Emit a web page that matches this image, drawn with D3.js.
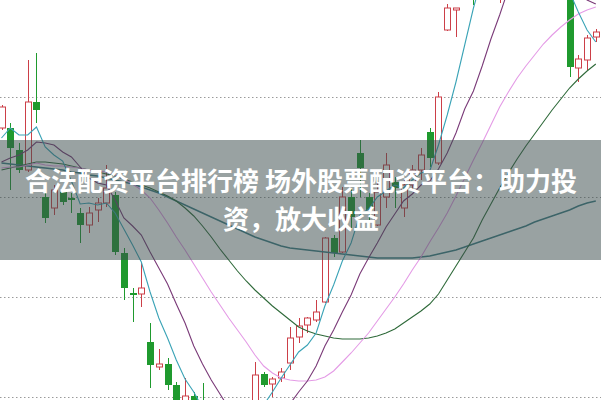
<!DOCTYPE html>
<html><head><meta charset="utf-8">
<script src="https://cdn.jsdelivr.net/npm/d3@7/dist/d3.min.js"></script>
<style>html,body{margin:0;padding:0;background:#fff;overflow:hidden}</style>
</head><body><svg id="c" width="601" height="400"></svg>
<script>
// ---- data (prices) ----
const opens=[36.9,36.9,34.7,32.7,39.5,30.0,28.9,30.5,29.9,28.4,27.2,28.7,29.4,30.2,24.4,20.4,20.3,15.5,13.0,13.3,11.2,8.5,10.1,9.4,6.7,4.9,5.9,4.2,5.5,8.7,12.3,11.3,11.9,13.4,16.0,17.2,17.7,19.5,25.9,24.5,30.0,34.4,30.0,27.2,30.0,31.5,28.9,31.2,32.7,36.5,33.4,46.7,48.7,50.5,55.0,51.5,56.0,52.0,57.0,60.0,61.0,59.0,56.5,53.0,51.5,50.5,42.9,43.7,46.0];
const highs=[39.2,37.4,35.4,43.7,44.4,31.4,31.2,30.9,30.4,28.9,29.0,29.9,33.2,30.5,24.9,20.9,23.4,17.4,14.8,13.9,11.5,11.9,10.5,11.4,8.2,7.2,6.9,6.7,8.7,13.5,12.5,12.0,12.9,17.0,17.9,18.0,19.7,26.0,26.2,31.0,30.9,35.7,30.4,31.7,34.4,32.0,31.7,33.2,34.9,36.9,40.5,49.3,48.9,55.0,56.0,57.0,59.5,58.0,61.0,62.5,62.0,59.5,57.0,53.5,52.5,51.0,44.2,46.2,46.8];
const lows=[36.7,30.7,32.4,32.5,37.4,27.4,28.2,29.2,28.4,25.4,26.4,27.5,29.0,24.2,19.7,17.5,19.0,10.9,12.7,10.7,8.2,7.9,7.2,6.2,4.7,4.2,3.5,3.7,5.0,8.2,11.0,10.0,11.5,12.7,15.4,16.4,17.5,19.4,24.0,24.4,26.7,30.0,27.7,27.1,28.9,28.9,28.0,30.7,31.7,33.0,33.2,46.6,46.0,50.2,49.2,51.0,55.0,49.4,56.0,59.0,58.0,55.0,52.0,50.3,49.8,42.0,41.5,42.7,45.5];
const closes=[39.0,34.9,32.7,39.5,38.7,27.9,30.7,29.5,29.7,27.2,28.4,29.4,30.9,24.5,20.9,20.2,20.9,13.2,13.3,11.2,8.7,10.1,7.7,6.7,5.2,6.2,4.2,5.7,7.7,12.2,11.2,11.8,12.5,15.9,17.1,17.9,18.5,25.9,24.4,30.0,28.0,32.9,28.7,30.5,33.2,30.9,31.2,32.7,34.2,33.9,40.0,48.9,48.9,54.0,51.0,56.0,58.0,57.0,60.0,61.0,59.0,56.0,53.0,51.0,50.0,43.0,43.8,45.9,46.5];

const ma5=[35.9,36.9,36.2,36.2,37.0,35.0,34.2,33.6,31.6,29.3,29.4,29.2,29.4,28.4,26.8,25.2,23.5,20.5,17.9,15.9,13.7,11.8,10.5,8.9,7.7,7.2,6.0,5.6,5.8,7.2,9.2,10.5,11.9,13.2,14.5,15.2,16.4,19.1,21.2,23.6,25.4,28.2,28.8,30.0,30.6,31.2,30.9,31.7,32.4,32.6,35.2,38.2,41.5,45.2,48.9,52.0,54.0,56.0,57.5,59.0,59.5,59.0,57.0,55.0,52.5,50.5,48.5,46.7,45.5];
const ma10=[33.5,33.9,34.2,34.7,35.5,35.4,35.2,34.5,34.0,33.0,31.9,31.4,31.2,29.7,27.9,27.1,26.2,24.5,22.9,21.3,19.3,17.4,15.1,13.3,11.7,10.3,8.9,8.0,7.4,7.4,7.7,7.9,8.3,9.3,10.5,11.6,13.1,15.1,16.7,18.5,20.2,22.3,23.9,25.4,27.0,28.3,29.6,30.3,31.2,31.6,32.8,34.4,36.4,38.8,40.6,43.1,45.8,48.2,50.8,53.0,55.0,56.0,56.0,55.0,53.5,51.8,50.6,49.7,49.3];
const ma20=[32.9,33.0,33.0,33.2,33.4,33.2,33.1,33.1,33.0,32.9,32.7,32.6,32.5,32.2,31.8,31.3,30.7,29.9,28.7,27.4,26.0,24.7,23.3,21.9,20.5,19.2,17.9,16.7,15.5,14.2,13.1,12.4,11.9,11.7,11.6,11.6,11.7,12.0,12.6,13.5,14.4,15.4,16.4,17.6,18.8,20.0,21.3,22.7,24.0,25.5,26.9,28.4,30.1,31.9,33.7,35.4,37.2,39.0,40.5,41.9,43.1,44.2,45.3,46.2,47.0,47.7,48.3,48.7,49.0];
const ma30=[32.7,32.9,33.1,33.3,33.5,33.5,33.4,33.3,33.1,32.9,32.7,32.5,32.3,32.1,31.8,31.5,31.2,30.9,30.5,30.1,29.6,28.9,28.1,27.1,26.0,24.8,23.7,22.6,21.6,20.7,19.9,19.1,18.4,17.7,17.0,16.6,16.3,16.1,15.9,15.8,15.8,15.8,15.9,16.1,16.4,16.8,17.4,18.0,18.6,19.3,20.3,21.7,23.1,24.5,25.9,27.7,29.3,30.9,32.4,33.8,35.1,36.3,37.5,38.7,39.8,40.9,41.8,42.6,43.3];
const ma60=[33.4,33.3,33.2,33.1,33.0,32.9,32.8,32.7,32.5,32.4,32.2,32.1,31.9,31.7,31.5,31.3,31.0,30.7,30.4,30.0,29.6,29.2,28.8,28.4,28.0,27.6,27.2,26.8,26.4,26.0,25.7,25.4,25.1,24.9,24.8,24.7,24.6,24.5,24.4,24.3,24.2,24.1,24.0,23.9,23.9,23.9,23.9,23.9,24.0,24.1,24.3,24.5,24.7,25.0,25.3,25.6,25.9,26.2,26.5,26.8,27.1,27.5,27.8,28.1,28.4,28.7,29.1,29.4,29.6];

const gridPrices=[10,20,30,40];
const titleLines=["合法配资平台排行榜 场外股票配资平台：助力投","资，放大收益"];

// ---- drawing ----
const W=601,H=400;
const svg=d3.select('#c');
const x=d3.scaleLinear().domain([0,closes.length-1]).range([1.5,595.8]);
const y=d3.scaleLinear().domain([9.7,49.7]).range([H,0]);
const idx=d3.range(closes.length);
const RED="#cc3f48", GREEN="#1f9a2e";

// grid
svg.append('g').selectAll('line').data(gridPrices).join('line')
  .attr('x1',0).attr('x2',W)
  .attr('y1',d=>Math.round(y(d))+0.5).attr('y2',d=>Math.round(y(d))+0.5)
  .attr('stroke','#9a9a9a').attr('stroke-width',1).attr('stroke-dasharray','1.5,2.5');

// candles
const cg=svg.append('g').selectAll('g').data(idx).join('g');
cg.append('line')
  .attr('x1',i=>Math.round(x(i))+0.5).attr('x2',i=>Math.round(x(i))+0.5)
  .attr('y1',i=>y(highs[i])).attr('y2',i=>y(lows[i]))
  .attr('stroke',i=>closes[i]>=opens[i]?RED:GREEN).attr('stroke-width',1);
cg.append('rect')
  .attr('x',i=>closes[i]>=opens[i]?Math.round(x(i))-2.5:Math.round(x(i))-3)
  .attr('width',i=>closes[i]>=opens[i]?6:7)
  .attr('y',i=>y(Math.max(opens[i],closes[i])))
  .attr('height',i=>Math.max(1,Math.abs(y(opens[i])-y(closes[i]))))
  .attr('fill',i=>closes[i]>=opens[i]?'#ffffff':GREEN)
  .attr('stroke',i=>closes[i]>=opens[i]?RED:'none')
  .attr('stroke-width',1);

// moving averages
const series=[
  {v:ma60,c:'#3d7d86',w:1.4},
  {v:ma30,c:'#2f6a3a',w:1.1},
  {v:ma20,c:'#e49be6',w:1.1},
  {v:ma10,c:'#7a3a78',w:1.1},
  {v:ma5,c:'#3aa3b6',w:1.1}
];
const line=d3.line().x((d,i)=>x(i)).y(d=>y(d));
svg.append('g').selectAll('path').data(series).join('path')
  .attr('d',s=>line(s.v)).attr('fill','none')
  .attr('stroke',s=>s.c).attr('stroke-width',s=>s.w);

// banner
svg.append('rect').attr('x',0).attr('y',140).attr('width',W).attr('height',120)
  .attr('fill','rgb(60,76,76)').attr('fill-opacity',0.52);
svg.append('g').selectAll('text').data(titleLines).join('text')
  .attr('x',301).attr('y',(d,i)=>190.5+i*38)
  .attr('text-anchor','middle')
  .attr('font-family','"Noto Sans CJK SC","Noto Sans",sans-serif')
  .attr('font-weight','bold').attr('font-size',26)
  .attr('fill','#ffffff').text(d=>d);
</script></body></html>
